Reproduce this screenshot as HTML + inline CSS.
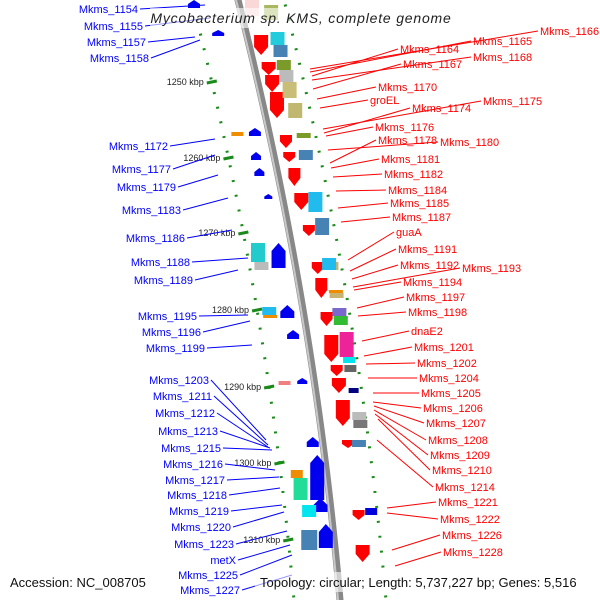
<!DOCTYPE html>
<html><head><meta charset="utf-8"><style>
html,body{margin:0;padding:0;background:#fff;}
svg{display:block;font-family:"Liberation Sans",sans-serif;}
</style></head><body>
<svg id="map" width="600" height="600" viewBox="0 0 600 600" xmlns="http://www.w3.org/2000/svg">
<g id="rings"></g>
<g id="backbone"></g>
<g id="genes"></g>
<g id="ticks"></g>
<g id="leftLabels"></g>
<g id="rightLabels"></g>
<rect x="150" y="8" width="302" height="20" fill="#fff" opacity="0.6"/>
<text x="301" y="23" text-anchor="middle" font-size="14" font-style="italic" letter-spacing="0.8" fill="#222">Mycobacterium sp. KMS, complete genome</text>
<rect x="5" y="572" width="145" height="20" fill="#fff" opacity="0.6"/>
<text x="10" y="587" font-size="13" fill="#111">Accession: NC_008705</text>
<rect x="255" y="572" width="340" height="20" fill="#fff" opacity="0.6"/>
<text x="260" y="587" font-size="13" fill="#111">Topology: circular; Length: 5,737,227 bp; Genes: 5,516</text>
</svg>
<script>
var NS="http://www.w3.org/2000/svg";
function bx(y){return 238+0.2525*y-0.0001375*y*y;}
function mk(tag,attrs,parent){var e=document.createElementNS(NS,tag);for(var k in attrs)e.setAttribute(k,attrs[k]);parent.appendChild(e);return e;}

// kbp tick labels and positions (y)
var tickLabels=["1250 kbp","1260 kbp","1270 kbp","1280 kbp","1290 kbp","1300 kbp","1310 kbp"];
var tickY=[82,158,233,310,387,463,540];

// genes: y start, y end, offset from backbone, width, color, kind
var geneY0=[0,35,62,75,92,32,45,60,70,82,103,135,152,168,193,225,262,278,312,335,365,378,400,440,510,545, 0,30,128,152,168,194,243,243,305,330,378,437,455,470,478,498,505,524,530, 5,262,290,293,308,316,357,365,388,412,420,133,150,192,218,258,332,381,307,315,262,508,440,132];
var geneY1=[16,55,75,92,118,45,57,70,82,98,118,148,162,186,210,236,274,298,326,362,376,393,426,448,520,562, 8,36,136,160,176,199,268,262,318,339,384,447,500,478,500,512,517,548,550, 20,270,293,298,316,325,363,372,393,420,428,138,160,212,235,270,357,385,315,318,270,515,447,136];
var geneOff=[12,12,14,14,14,30,30,30,30,30,31,15,15,16,18,20,22,22,22,22,24,24,24,25,27,27, -45,-28,-14,-18,-18,-14,-15,-35,-16,-14,-12,-10,-10,-30,-28,-10,-22,-8,-25, 30,36,36,36,36,36,38,38,38,40,40,34,32,32,34,34,38,-30,-34,-34,-34,40,36,-32];
var geneW=[14,14,14,14,14,14,14,14,14,14,14,12,12,12,14,12,12,12,12,14,12,14,14,12,12,14, 12,12,12,10,10,8,14,14,14,12,10,12,14,12,14,14,14,14,16, 14,14,14,14,14,14,12,12,10,14,14,14,14,14,14,14,14,12,14,14,14,12,14,12];
var geneKind=["fade","rarrow","rarrow","rarrow","rarrow","box","box","box","box","box","box","rarrow","rarrow","rarrow","rarrow","rarrow","rarrow","rarrow","rarrow","rarrow","rarrow","rarrow","rarrow","rarrow","rarrow","rarrow","barrow","barrow","barrow","barrow","barrow","barrow","barrow","box","barrow","barrow","barrow","barrow","barrow","box","box","barrow","box","barrow","box","box","box","box","box","box","box","box","box","box","box","box","box","box","box","box","box","box","box","box","box","box","box","box","box"];
var geneColor=["#f8c8c8","#f00","#f00","#f00","#f00","#22ccdd","#4682b4","#7a9a2a","#bbbbbb","#c8be78","#c0b870","#f00","#f00","#f00","#f00","#f00","#f00","#f00","#f00","#f00","#f00","#f00","#f00","#f00","#f00","#f00","#0000ee","#0000ee","#0000ee","#0000ee","#0000ee","#0000ee","#0000ee","#22cccc","#0000ee","#0000ee","#0000ee","#0000ee","#0000ee","#f08c00","#22dd99","#0000ee","#00e5ee","#0000ee","#4682b4","#a8b860","#c8b470","#f08c00","#c8b470","#7b68cc","#33bb33","#00e5ee","#666","#000080","#bbbbbb","#777","#7a9a2a","#4682b4","#22bbee","#4682b4","#22bbee","#ee2299","#f08080","#22bbee","#f08c00","#bbbbbb","#0000dd","#4682b4","#f08c00"];

var rightNames=["Mkms_1166","Mkms_1165","Mkms_1164","Mkms_1168","Mkms_1167","Mkms_1170","groEL","Mkms_1175","Mkms_1174","Mkms_1176","Mkms_1180","Mkms_1178","Mkms_1181","Mkms_1182","Mkms_1184","Mkms_1185","Mkms_1187","guaA","Mkms_1191","Mkms_1192","Mkms_1193","Mkms_1194","Mkms_1197","Mkms_1198","dnaE2","Mkms_1201","Mkms_1202","Mkms_1204","Mkms_1205","Mkms_1206","Mkms_1207","Mkms_1208","Mkms_1209","Mkms_1210","Mkms_1214","Mkms_1221","Mkms_1222","Mkms_1226","Mkms_1228"];
var rightX=[540,473,400,473,403,378,370,483,412,375,440,378,381,384,388,390,392,396,398,400,462,403,406,408,411,414,417,419,421,423,426,428,430,432,435,438,440,442,443];
var rightY=[35,45,53,61,68,91,104,105,112,131,146,144,163,178,194,207,221,236,253,269,272,286,301,316,335,351,367,382,397,412,427,444,459,474,491,506,523,539,556];
var rightTX=[310,310,312,312,313,317,320,323,324,326,328,330,331,333,336,338,341,348,350,352,353,354,357,358,362,364,366,368,373,373,374,374,375,378,377,387,387,392,395];
var rightTY=[69,72,76,80,89,99,108,129,133,136,150,163,168,177,191,208,222,260,271,279,287,290,308,316,341,356,364,378,393,402,406,410,414,419,440,508,513,550,566];

var leftNames=["Mkms_1154","Mkms_1155","Mkms_1157","Mkms_1158","Mkms_1172","Mkms_1177","Mkms_1179","Mkms_1183","Mkms_1186","Mkms_1188","Mkms_1189","Mkms_1195","Mkms_1196","Mkms_1199","Mkms_1203","Mkms_1211","Mkms_1212","Mkms_1213","Mkms_1215","Mkms_1216","Mkms_1217","Mkms_1218","Mkms_1219","Mkms_1220","Mkms_1223","metX","Mkms_1225","Mkms_1227"];
var leftX=[138,143,146,149,168,171,176,181,185,190,193,197,201,205,209,212,215,218,221,223,225,227,229,231,234,236,238,240];
var leftY=[13,30,46,62,150,173,191,214,242,266,284,320,336,352,384,400,417,435,452,468,484,499,515,531,548,564,579,594];
var leftTX=[205,210,195,200,215,215,218,228,232,248,238,248,250,252,266,268,268,270,272,275,279,280,282,284,287,290,292,292];
var leftTY=[5,18,37,40,139,155,175,198,230,258,270,315,321,345,440,445,447,448,450,470,477,488,505,512,531,545,555,575];

var rings=document.getElementById('rings');
[-46,46].forEach(function(off,i){
  var d="";for(var y=-10;y<=610;y+=10){d+=(y==-10?"M":"L")+(bx(y)+off)+","+y;}
  var p=mk('path',{d:d,fill:"none",stroke:"#1a8a1a","stroke-width":3,"stroke-dasharray":"2 13"},rings);
  
  
});

var bb=document.getElementById('backbone');
var dd="";for(var y=-10;y<=610;y+=10){dd+=(y==-10?"M":"L")+bx(y)+","+y;}
var b1=mk('path',{d:dd,fill:"none",stroke:"#888","stroke-width":7},bb);


var b2=mk('path',{d:dd,fill:"none",stroke:"#c8c8c8","stroke-width":2,transform:"translate(-2,0)"},bb);



var gg=document.getElementById('genes');
for(var i=0;i<geneY0.length;i++){
  var y0=geneY0[i],y1=geneY1[i],w=geneW[i],cx=bx((y0+y1)/2)+geneOff[i],k=geneKind[i],el;
  if(k=="box"||k=="fade"){
    el=mk('rect',{x:cx-w/2,y:y0,width:w,height:y1-y0,fill:geneColor[i],opacity:k=="fade"?0.7:1},gg);
  } else if(k=="rarrow"){
    var h=y1-y0,hd=Math.min(8,h*0.5);
    el=mk('polygon',{points:(cx-w/2)+","+y0+" "+(cx+w/2)+","+y0+" "+(cx+w/2)+","+(y1-hd)+" "+cx+","+y1+" "+(cx-w/2)+","+(y1-hd),fill:geneColor[i]},gg);
  } else {
    var h2=y1-y0,hd2=Math.min(8,h2*0.5);
    el=mk('polygon',{points:cx+","+y0+" "+(cx+w/2)+","+(y0+hd2)+" "+(cx+w/2)+","+y1+" "+(cx-w/2)+","+y1+" "+(cx-w/2)+","+(y0+hd2),fill:geneColor[i]},gg);
  }
  
  
}

var tk=document.getElementById('ticks');
for(var i=0;i<tickLabels.length;i++){
  var tx=bx(tickY[i])-46;
  var ln=mk('line',{x1:tx-5,y1:tickY[i]+1,x2:tx+5,y2:tickY[i]-1,stroke:"#1a8a1a","stroke-width":3},tk);
  
  
  var t=mk('text',{x:tx-8,y:tickY[i]+3,"font-size":9,fill:"#222","text-anchor":"end"},tk);
  t.textContent=tickLabels[i];
  
  
}

var rl=document.getElementById('rightLabels');
for(var i=0;i<rightNames.length;i++){
  var l=mk('line',{x1:rightTX[i],y1:rightTY[i],x2:rightX[i]-2,y2:rightY[i]-4,stroke:"#f00","stroke-width":1},rl);
  
  
  var t=mk('text',{x:rightX[i],y:rightY[i],"font-size":11,fill:"#f00"},rl);
  t.textContent=rightNames[i];
  
  
}
var ll=document.getElementById('leftLabels');
for(var i=0;i<leftNames.length;i++){
  var l=mk('line',{x1:leftX[i]+2,y1:leftY[i]-4,x2:leftTX[i],y2:leftTY[i],stroke:"#00f","stroke-width":1},ll);
  
  
  var t=mk('text',{x:leftX[i],y:leftY[i],"font-size":11,fill:"#00f","text-anchor":"end"},ll);
  t.textContent=leftNames[i];
  
  
}
</script>
</body></html>
